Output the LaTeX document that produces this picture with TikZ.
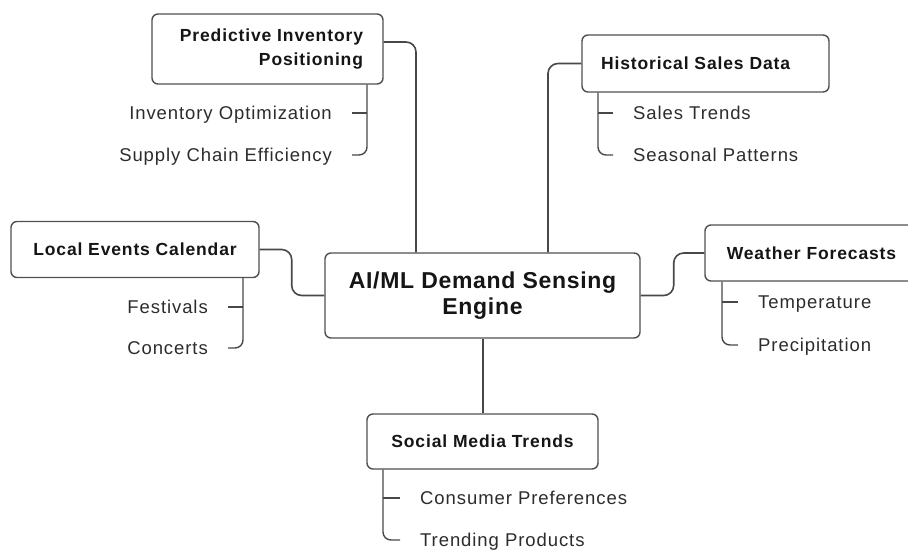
\documentclass[tikz,border=0pt]{standalone}
\usepackage{fontspec}
\setmainfont{Liberation Sans}
\newfontfamily\itemfont[LetterSpace=5]{Liberation Sans}
\newfontfamily\titlefont[LetterSpace=5]{Liberation Sans}
\newfontfamily\corefont[LetterSpace=3]{Liberation Sans}
\definecolor{boxgray}{HTML}{505050}
\definecolor{linegray}{HTML}{484848}
\definecolor{titleink}{HTML}{151515}
\definecolor{itemink}{HTML}{2C2C2C}
\tikzset{
  topic/.style={draw=boxgray, line width=1.4pt, rounded corners=6pt, fill=white,
    text=titleink, font=\titlefont\bfseries\fontsize{17.5}{24}\selectfont,
    inner ysep=0pt},
  core/.style={topic, font=\corefont\bfseries\fontsize{23}{26}\selectfont,
    align=center},
  leaf/.style={text=itemink, font=\itemfont\fontsize{18.5}{21}\selectfont,
    inner xsep=20pt, inner ysep=0pt, text height=13.5pt, text depth=1pt},
  link/.style={draw=linegray, line width=1.6pt, rounded corners=10pt},
  twig/.style={draw=linegray, line width=1.4pt, rounded corners=8pt},
}
\begin{document}
\begin{tikzpicture}[x=1pt, y=1pt]
  \useasboundingbox (0,0) rectangle (908,-551);

  % central engine
  \node[core, minimum width=315pt, minimum height=85pt] (core) at (482.5,-295.5)
    {AI/ML Demand Sensing\\Engine};

  % input and output topics
  \node[topic, text width=191pt, inner xsep=20pt, align=right, minimum height=70pt]
    (pred) at (267.5,-49) {Predictive Inventory\\Positioning};
  \node[topic, text width=209pt, inner xsep=19pt, align=left, minimum height=57pt]
    (hist) at (705.5,-63.5) {Historical Sales Data};
  \node[topic, minimum width=248pt, minimum height=56pt]
    (local) at (135,-249.5) {Local Events Calendar};
  \node[topic, minimum width=213pt, minimum height=56pt]
    (weather) at (811.5,-253) {Weather Forecasts};
  \node[topic, minimum width=231pt, minimum height=55pt]
    (social) at (482.5,-441.5) {Social Media Trends};

  % branch columns
  \coordinate (kp) at (416,0);
  \coordinate (kh) at (548,0);
  \coordinate (ks) at (483,0);

  % main links
  \draw[link] ([yshift=7pt]pred.east) -| (core.north -| kp);
  \draw[link] (core.north -| kh) |- (hist.west);
  \draw[link] (local.east) -- ++(32,0) |- (core.west);
  \draw[link] (core.east) -- ++(33,0) |- (weather.west);
  \draw[link] (core.south -| ks) -- (social.north -| ks);

  % sub-items: predictive inventory positioning
  \node[leaf, anchor=east] (p1) at (352,-113) {Inventory Optimization};
  \node[leaf, anchor=east] (p2) at (352,-155) {Supply Chain Efficiency};
  \coordinate (pv) at (367,0);
  \draw[twig] (pred.south -| pv) |- (p2.east);
  \draw[twig] (p1.east) -- (p1.east -| pv);

  % sub-items: historical sales data
  \node[leaf, anchor=west] (h1) at (613,-113) {Sales Trends};
  \node[leaf, anchor=west] (h2) at (613,-155) {Seasonal Patterns};
  \coordinate (hv) at (598,0);
  \draw[twig] (hist.south -| hv) |- (h2.west);
  \draw[twig] (h1.west) -- (h1.west -| hv);

  % sub-items: local events calendar
  \node[leaf, anchor=east] (l1) at (228,-307) {Festivals};
  \node[leaf, anchor=east] (l2) at (228,-348) {Concerts};
  \coordinate (lv) at (243,0);
  \draw[twig] (local.south -| lv) |- (l2.east);
  \draw[twig] (l1.east) -- (l1.east -| lv);

  % sub-items: weather forecasts
  \node[leaf, anchor=west] (w1) at (738,-302) {Temperature};
  \node[leaf, anchor=west] (w2) at (738,-345) {Precipitation};
  \coordinate (wv) at (722,0);
  \draw[twig] (weather.south -| wv) |- (w2.west);
  \draw[twig] (w1.west) -- (w1.west -| wv);

  % sub-items: social media trends
  \node[leaf, anchor=west] (s1) at (400,-498) {Consumer Preferences};
  \node[leaf, anchor=west] (s2) at (400,-540) {Trending Products};
  \coordinate (sv) at (383,0);
  \draw[twig] (social.south -| sv) |- (s2.west);
  \draw[twig] (s1.west) -- (s1.west -| sv);
\end{tikzpicture}
\end{document}
